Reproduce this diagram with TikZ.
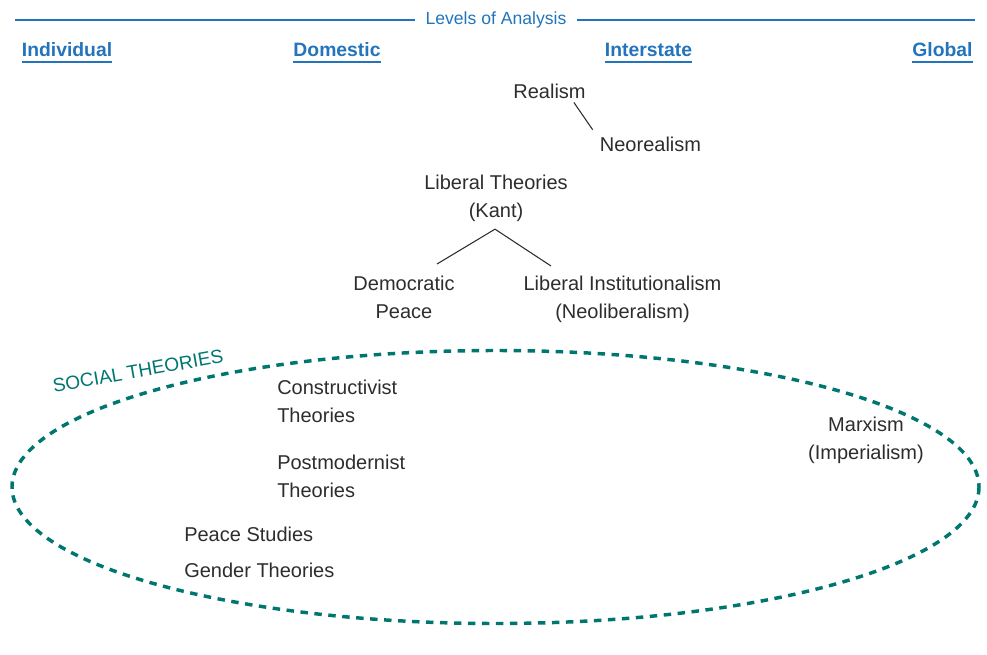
\documentclass[tikz,border=0pt]{standalone}
\usepackage{fontspec}
\setmainfont{Liberation Sans}
\usetikzlibrary{calc}
\definecolor{lblue}{RGB}{35,116,188}
\definecolor{tealc}{RGB}{0,118,112}
\definecolor{txt}{RGB}{45,45,45}
\begin{document}
\begin{tikzpicture}[x=0.75pt,y=-0.75pt,
  lbl/.style={font=\fontsize{15}{21}\selectfont, text=txt, inner sep=0pt, align=center},
  lvl/.style={font=\bfseries\fontsize{14.5}{17}\selectfont, text=lblue, inner sep=0pt, anchor=base},
  conn/.style={draw=txt, line width=0.8pt},
  hdrline/.style={draw=lblue, line width=2.2pt},
  uline/.style={draw=lblue, line width=1.7pt},
  social/.style={draw=tealc, line width=2.6pt, dash pattern=on 5.6pt off 4.9pt}]
\useasboundingbox (0,0) rectangle (987,655);

% header
\node[font=\fontsize{13.2}{16}\selectfont, text=lblue, inner sep=0pt, anchor=base] (title) at (496,25) {Levels of Analysis};
\coordinate (hl) at (15,20);
\coordinate (hr) at (975,20);
\draw[hdrline, shorten >=7.5pt] (hl) -- (hl -| title.west);
\draw[hdrline, shorten >=7.5pt] (hr) -- (hr -| title.east);

% level labels
\node[lvl] (ind) at (67,57) {Individual};
\node[lvl] (dom) at (337,57) {Domestic};
\node[lvl] (inter) at (648.5,57) {Interstate};
\node[lvl] (glob) at (942.5,57) {Global};
\foreach \n in {ind,dom,inter,glob}{
  \draw[uline] ($(\n.base west)+(0,5)$) -- ($(\n.base east)+(0,5)$);
}

% theories
\node[lbl, anchor=base] (realism) at (549.5,98.5) {Realism};
\node[lbl, anchor=base] (neo) at (650.5,151.5) {Neorealism};
\node[lbl, anchor=north] (lib) at (496,175) {Liberal Theories\\(Kant)};
\node[lbl, anchor=north] (dem) at (404,276) {Democratic\\Peace};
\node[lbl, anchor=north] (libinst) at (622.5,276) {Liberal Institutionalism\\(Neoliberalism)};

\draw[conn] ($(realism.south east)+(-12,3.5)$) -- ($(neo.north west)+(-7,-7)$);
\coordinate (apex) at ($(lib.south)+(-1,7)$);
\draw[conn] ($(dem.north)+(33,-12)$) -- (apex) -- ($(libinst.north)+(-71.5,-10)$);

% social theories
\draw[social] (495.5,487) ellipse [x radius=483.5, y radius=136.5];
\node[font=\fontsize{14.3}{17}\selectfont, text=tealc, inner sep=0pt, rotate=10] (soc) at (138,371) {SOCIAL THEORIES};

\node[lbl, anchor=north west, align=left] (cons) at (277,380) {Constructivist\\Theories};
\node[lbl, anchor=north west, align=left] (post) at (277,455) {Postmodernist\\Theories};
\node[lbl, anchor=base west] (peace) at (184,541) {Peace Studies};
\node[lbl, anchor=base west] (gender) at (184,577) {Gender Theories};
\node[lbl, anchor=north] (marx) at (866,417) {Marxism\\(Imperialism)};
\end{tikzpicture}
\end{document}
